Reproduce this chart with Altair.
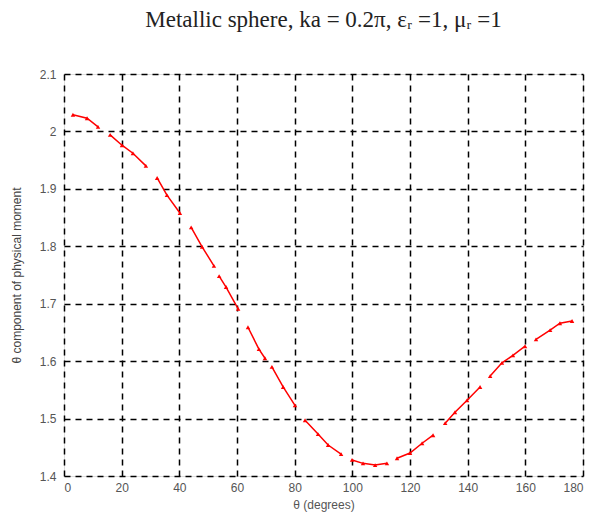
import altair as alt
import pandas as pd

theta = [3.1, 8.0, 11.8,
         16.0, 20.1, 23.9, 28.4,
         32.3, 35.7, 40.2,
         44.1, 47.9, 52.0,
         53.8, 56.2, 60.4,
         63.8, 67.6, 69.7,
         72.1, 76.0, 80.1,
         83.6, 88.1, 91.6, 96.1,
         99.9, 103.7, 107.9, 112.0,
         115.5, 120.0, 124.2, 128.0,
         132.2, 135.6, 139.8, 144.3,
         147.8, 151.9, 155.7, 159.9,
         163.7, 168.6, 172.0, 176.2]
value = [2.029, 2.023, 2.008,
         1.994, 1.976, 1.962, 1.940,
         1.919, 1.889, 1.858,
         1.833, 1.799, 1.766,
         1.748, 1.729, 1.691,
         1.659, 1.621, 1.605,
         1.590, 1.555, 1.523,
         1.497, 1.473, 1.454, 1.438,
         1.428, 1.422, 1.419, 1.422,
         1.431, 1.440, 1.457, 1.471,
         1.492, 1.511, 1.532, 1.555,
         1.574, 1.597, 1.610, 1.626,
         1.638, 1.654, 1.666, 1.670]
segment = [1, 1, 1,
           2, 2, 2, 2,
           3, 3, 3,
           4, 4, 4,
           5, 5, 5,
           6, 6, 6,
           7, 7, 7,
           8, 8, 8, 8,
           9, 9, 9, 9,
           10, 10, 10, 10,
           11, 11, 11, 11,
           12, 12, 12, 12,
           13, 13, 13, 13]

df = pd.DataFrame({"theta": theta, "value": value, "segment": segment})

x_ticks = list(range(0, 181, 20))
y_ticks = [1.4, 1.5, 1.6, 1.7, 1.8, 1.9, 2.0, 2.1]

x_enc = alt.X("theta:Q", scale=alt.Scale(domain=[0, 180], nice=False, zero=False),
              axis=alt.Axis(values=x_ticks, title="θ (degrees)", grid=True,
                            gridDash=[6, 5], gridColor="#000000", gridWidth=1.5, gridOpacity=1,
                            labelFont="Liberation Sans", labelFontSize=12, labelColor="#555555",
                            labelPadding=6, tickSize=0, domain=False,
                            titleFont="Liberation Sans", titleFontSize=12, titleFontWeight="normal",
                            titleColor="#555555", titlePadding=6))
y_enc = alt.Y("value:Q", scale=alt.Scale(domain=[1.4, 2.1], nice=False, zero=False),
              axis=alt.Axis(values=y_ticks, format=".1~f", title="θ component of physical moment",
                            grid=True, gridDash=[6, 5], gridColor="#000000", gridWidth=1.5, gridOpacity=1,
                            labelFont="Liberation Sans", labelFontSize=12, labelColor="#555555",
                            labelPadding=8, tickSize=0, domain=False,
                            titleFont="Liberation Sans", titleFontSize=12, titleFontWeight="normal",
                            titleColor="#444444", titlePadding=16))

line = alt.Chart(df).mark_line(color="#ff0000", strokeWidth=1.5).encode(
    x=x_enc, y=y_enc, detail="segment:N")
pts = alt.Chart(df).mark_point(shape="triangle-up", filled=True, color="#ff0000",
                               size=20, opacity=1).encode(x="theta:Q", y="value:Q")

chart = alt.layer(line, pts).properties(
    width=519, height=402,
    title=alt.TitleParams("Metallic sphere,  ka = 0.2π, εᵣ =1, μᵣ =1",
                          font="Liberation Serif", fontSize=23, fontWeight="normal",
                          color="#222222", anchor="middle", offset=36),
    autosize=alt.AutoSizeParams(type="none"),
    padding={"left": 64, "top": 74, "right": 14, "bottom": 49},
).configure_view(stroke="#333333", strokeWidth=2).configure(background="white")

chart.save("out.html", embed_options={"renderer": "svg", "actions": False})
